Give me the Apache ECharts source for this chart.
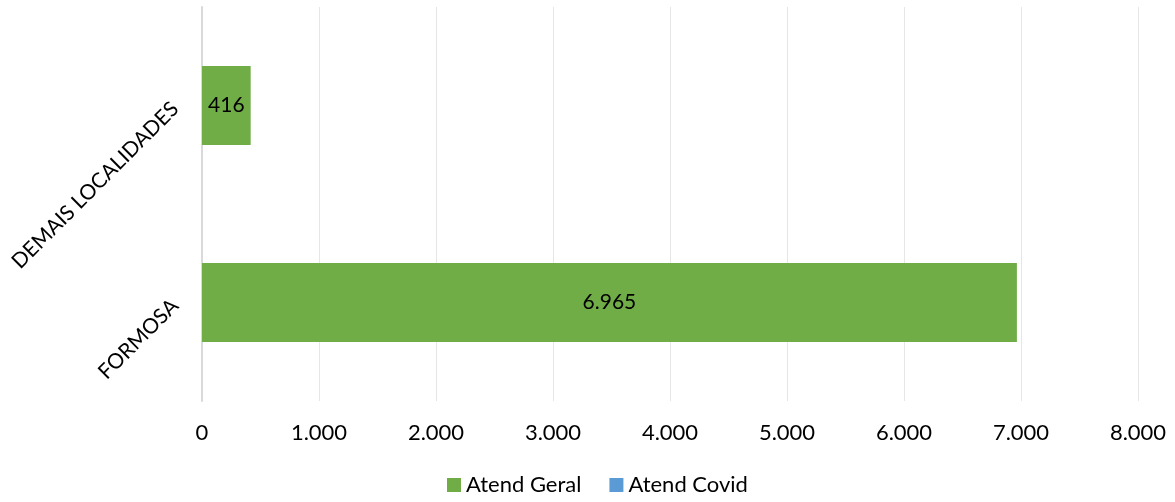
<!DOCTYPE html>
<html>
<head>
<meta charset="utf-8">
<script src="https://cdn.jsdelivr.net/npm/echarts@6/dist/echarts.min.js"></script>
<style>
  html, body { margin: 0; padding: 0; background: #fff; }
  #chart { width: 1175px; height: 502px; }
</style>
</head>
<body>
<div id="chart"></div>
<script>
// dados do gráfico
const categorias = ['FORMOSA', 'DEMAIS LOCALIDADES'];
const atendGeral = [6965, 416];
const atendCovid = [0, 0];
const ticksX = [0, 1000, 2000, 3000, 4000, 5000, 6000, 7000, 8000];

const fonte = 'Lato, "Open Sans", sans-serif';

// formata com ponto como separador de milhar
function fmt (v) {
  return String(v).replace(/\B(?=(\d{3})+(?!\d))/g, '.');
}

const chart = echarts.init(document.getElementById('chart'));
chart.setOption({
  animation: false,
  textStyle: { fontFamily: fonte },
  grid: { left: 202, right: 37, top: 7, bottom: 101, containLabel: false },
  legend: {
    bottom: 1,
    left: 442,
    itemWidth: 14,
    itemHeight: 14,
    itemGap: 28,
    icon: 'rect',
    textStyle: { fontSize: 22, color: '#000', fontFamily: fonte },
    data: ['Atend Geral', 'Atend Covid']
  },
  xAxis: {
    type: 'value',
    min: ticksX[0],
    max: ticksX[ticksX.length - 1],
    interval: 1000,
    axisLine: { show: false },
    axisTick: { show: false },
    splitLine: { lineStyle: { color: '#e6e6e6', width: 1 } },
    axisLabel: {
      fontSize: 22, color: '#000', margin: 21,
      formatter: fmt
    }
  },
  yAxis: {
    type: 'category',
    data: categorias,
    axisLine: { show: true, lineStyle: { color: '#d9d9d9', width: 2 } },
    axisTick: { show: false },
    axisLabel: { fontSize: 21, color: '#000', rotate: 45, margin: 27 }
  },
  series: [
    {
      name: 'Atend Geral',
      type: 'bar',
      stack: 'total',
      barWidth: '40%',
      itemStyle: { color: '#70ad47' },
      label: {
        show: true, position: 'inside', fontSize: 21, color: '#000',
        formatter: p => fmt(p.value)
      },
      data: atendGeral
    },
    {
      name: 'Atend Covid',
      type: 'bar',
      stack: 'total',
      barWidth: '40%',
      itemStyle: { color: '#5b9bd5' },
      data: atendCovid
    }
  ]
});
</script>
</body>
</html>
